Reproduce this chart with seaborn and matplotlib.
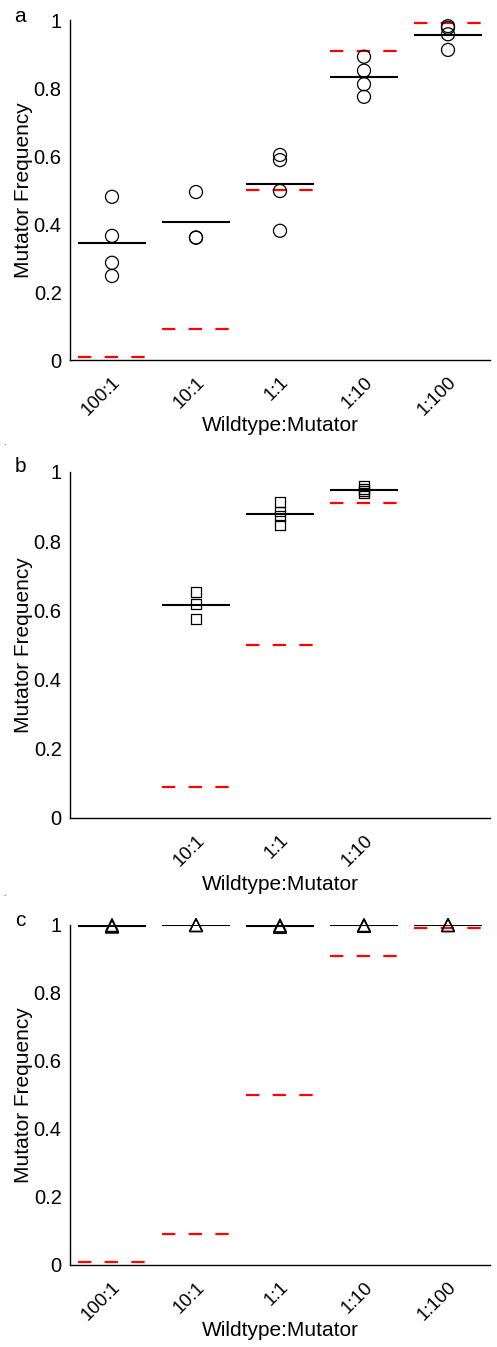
import numpy as np
import pandas as pd
import matplotlib
matplotlib.use('Agg')
import matplotlib.pyplot as plt
import seaborn as sns

sns.set_style('white')
plt.rcParams['font.family'] = ['Liberation Sans', 'DejaVu Sans']
plt.rcParams['text.color'] = 'black'
plt.rcParams['axes.labelcolor'] = 'black'
plt.rcParams['xtick.color'] = 'black'
plt.rcParams['ytick.color'] = 'black'

# categories (x positions 1..5)
ratios = ['100:1', '10:1', '1:1', '1:10', '1:100']
expected = [0.01, 0.09, 0.5, 0.91, 0.99]

# panel a: circles
a_pos = [1, 1, 1, 1, 2, 2, 2, 3, 3, 3, 3, 4, 4, 4, 4, 5, 5, 5, 5]
a_val = [0.48, 0.365, 0.286, 0.247,
         0.494, 0.36, 0.36,
         0.603, 0.588, 0.497, 0.38,
         0.892, 0.851, 0.811, 0.774,
         0.982, 0.977, 0.958, 0.912]
a_mean = [0.344, 0.405, 0.517, 0.832, 0.957]

# panel b: squares (only 10:1, 1:1, 1:10)
b_groups = [2, 3, 4]
b_pos = [2, 2, 2, 3, 3, 3, 3, 4, 4, 4, 4]
b_val = [0.653, 0.619, 0.576,
         0.913, 0.886, 0.872, 0.847,
         0.960, 0.952, 0.945, 0.940]
b_mean = [0.616, 0.879, 0.949]
b_expected = [0.09, 0.5, 0.91]

# panel c: triangles
c_pos = [1, 1, 1, 2, 2, 2, 3, 3, 3, 4, 4, 4, 5, 5, 5]
c_val = [1.0, 0.997, 0.995,
         1.0, 1.0, 0.999,
         0.999, 0.996, 0.994,
         1.0, 0.998, 0.997,
         1.0, 1.0, 0.999]
c_mean = [0.998, 1.0, 0.997, 0.999, 0.999]

W, H = 497, 1347
fig = plt.figure(figsize=(W / 100, H / 100), dpi=100)

def make_ax(top_px, bot_px):
    return fig.add_axes([70 / W, 1 - bot_px / H, 420 / W, (bot_px - top_px) / H])

def style(ax, tick_pos):
    ax.set_xlim(0.5, 5.5)
    ax.set_ylim(0, 1)
    for s in ['top', 'right']:
        ax.spines[s].set_visible(False)
    for s in ['left', 'bottom']:
        ax.spines[s].set_color('black')
        ax.spines[s].set_linewidth(1.0)
    ax.set_yticks([0, 0.2, 0.4, 0.6, 0.8, 1.0])
    ax.set_yticklabels(['0', '0.2', '0.4', '0.6', '0.8', '1'], fontsize=14.5)
    ax.set_xticks(tick_pos)
    ax.set_xticklabels([ratios[p - 1] for p in tick_pos], rotation=45,
                       ha='right', rotation_mode='anchor', fontsize=13.5)
    ax.tick_params(direction='in', length=4, width=0.8, color='black', pad=6)
    ax.tick_params(axis='x', pad=10)
    ax.set_ylabel('Mutator Frequency', fontsize=15)
    ax.set_xlabel('Wildtype:Mutator', fontsize=15)
    ax.yaxis.set_label_coords(-0.088, 0.5)
    ax.xaxis.set_label_coords(0.5, -0.165)
    ax.grid(False)

def draw(ax, pos, val, groups, means, exp, marker, size):
    df = pd.DataFrame({'x': pos, 'y': val})
    sns.scatterplot(data=df, x='x', y='y', marker=marker, s=size, ax=ax,
                    facecolor='none', edgecolor='black', linewidth=0.9,
                    clip_on=False, zorder=3)
    ax.collections[-1].set_facecolor('none')
    g = np.array(groups)
    ax.hlines(means, g - 0.4, g + 0.4, color='black', lw=1.5, zorder=4)
    ax.hlines(exp, g - 0.4, g + 0.5, color='red', lw=1.6,
              linestyles=[(0, (6, 6))], zorder=2)

ax_a = make_ax(20, 360)
draw(ax_a, a_pos, a_val, [1, 2, 3, 4, 5], a_mean, expected, 'o', 88)
style(ax_a, [1, 2, 3, 4, 5])

ax_b = make_ax(472, 818)
draw(ax_b, b_pos, b_val, b_groups, b_mean, b_expected, 's', 50)
style(ax_b, [2, 3, 4])

ax_c = make_ax(925, 1265)
draw(ax_c, c_pos, c_val, [1, 2, 3, 4, 5], c_mean, expected, '^', 85)
style(ax_c, [1, 2, 3, 4, 5])

for lab, ypx in [('a', 17), ('b', 467), ('c', 920)]:
    fig.text(20 / W, 1 - ypx / H, lab, fontsize=15, ha='center', va='center')
for ypx in [447, 898]:
    fig.text(4 / W, 1 - ypx / H, '.', fontsize=6, ha='center', va='bottom')

fig.savefig('out.png', dpi=100)
